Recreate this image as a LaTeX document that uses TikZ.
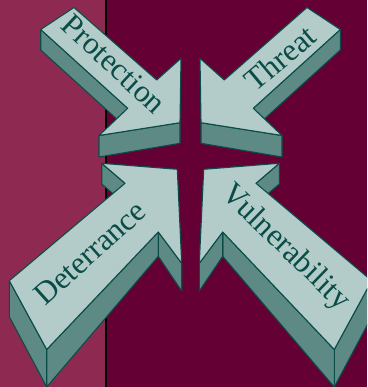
\documentclass[tikz,border=0pt]{standalone}
\usepackage{fontspec}
\setmainfont{Liberation Serif}
\definecolor{bgL}{HTML}{8E2A51}
\definecolor{bgR}{HTML}{650034}
\definecolor{topC}{HTML}{B3CCC9}
\definecolor{sideC}{HTML}{5E8A85}
\definecolor{edgeC}{HTML}{0A4D48}
\begin{document}
\begin{tikzpicture}[x=1pt,y=-1pt,
  topface/.style={fill=topC,draw=edgeC,line width=1.1pt,line join=round},
  sideface/.style={fill=sideC,draw=edgeC,line width=1.1pt,line join=round},
  lbl/.style={font=\fontsize{31.5}{31.5}\selectfont,text=edgeC,inner sep=0pt}]
\useasboundingbox (0,0) rectangle (367,387);
\clip (0,0) rectangle (367,387);
% background
\fill[bgR] (0,0) rectangle (367,387);
\fill[bgL] (0,0) rectangle (106,387);
\draw[black,line width=2pt] (106,0) -- (106,387);

% ---------- Protection (top left) ----------
\coordinate (pA) at (74,7.5);
\coordinate (pB) at (40.7,29.5);
\coordinate (pBd) at (40.7,50);
\coordinate (pC) at (127.7,108.3);
\coordinate (pCd) at (127.7,129);
\coordinate (pD) at (99,135.5);
\coordinate (pDd) at (99,157);
\coordinate (pE) at (180,122.7);
\coordinate (pEd) at (180,143.3);
\coordinate (pF) at (181,58.3);
\coordinate (pG) at (156.7,80);
\draw[sideface] (pB) -- (pC) -- (pCd) -- (pBd) -- cycle;
\draw[sideface] (pD) -- (pE) -- (pEd) -- (pDd) -- cycle;
\draw[topface] (pA) -- (pB) -- (pC) -- (pD) -- (pE) -- (pF) -- (pG) -- cycle;

% ---------- Threat (top right) ----------
\coordinate (tA) at (307,7.5);
\coordinate (tB) at (340.3,29.5);
\coordinate (tBd) at (340.3,50);
\coordinate (tC) at (253.3,108.3);
\coordinate (tCd) at (253.3,129);
\coordinate (tD) at (282,135.5);
\coordinate (tDd) at (282,157);
\coordinate (tE) at (201,122.7);
\coordinate (tEd) at (201,143.3);
\coordinate (tF) at (200,58.3);
\coordinate (tG) at (224.3,80);
\draw[sideface] (tB) -- (tC) -- (tCd) -- (tBd) -- cycle;
\draw[sideface] (tD) -- (tE) -- (tEd) -- (tDd) -- cycle;
\draw[topface] (tA) -- (tB) -- (tC) -- (tD) -- (tE) -- (tF) -- (tG) -- cycle;

% ---------- Deterrance (bottom left) ----------
\coordinate (d1) at (9.3,280.7);
\coordinate (d1d) at (9.3,316.7);
\coordinate (d2) at (46.7,349.5);
\coordinate (d2d) at (46.7,387);
\coordinate (d3) at (158.3,232);
\coordinate (d3d) at (158.3,256.3);
\coordinate (d4) at (181.7,263.3);
\coordinate (d4d) at (181.7,291);
\coordinate (d5) at (177.3,169.3);
\coordinate (d6) at (101.7,163.3);
\coordinate (d6d) at (101.7,184);
\coordinate (d7) at (125,183.3);
\coordinate (d7d) at (125,204);
\draw[sideface] (d6) -- (d7) -- (d7d) -- (d6d) -- cycle;
\draw[sideface] (d1) -- (d2) -- (d2d) -- (d1d) -- cycle;
\draw[sideface] (d2) -- (d3) -- (d3d) -- (d2d) -- cycle;
\draw[sideface] (d3) -- (d4) -- (d4d) -- (d3d) -- cycle;
\draw[topface] (d1) -- (d2) -- (d3) -- (d4) -- (d5) -- (d6) -- (d7) -- cycle;

% ---------- Vulnerability (bottom right) ----------
\coordinate (v1) at (371.7,280.7);
\coordinate (v1d) at (371.7,316.7);
\coordinate (v2) at (334.3,349.5);
\coordinate (v2d) at (334.3,387);
\coordinate (v3) at (222.7,232);
\coordinate (v3d) at (222.7,256.3);
\coordinate (v4) at (199.3,263.3);
\coordinate (v4d) at (199.3,291);
\coordinate (v5) at (203.7,169.3);
\coordinate (v6) at (279.3,163.3);
\coordinate (v6d) at (279.3,184);
\coordinate (v7) at (256,183.3);
\coordinate (v7d) at (256,204);
\draw[sideface] (v6) -- (v7) -- (v7d) -- (v6d) -- cycle;
\draw[sideface] (v1) -- (v2) -- (v2d) -- (v1d) -- cycle;
\draw[sideface] (v2) -- (v3) -- (v3d) -- (v2d) -- cycle;
\draw[sideface] (v3) -- (v4) -- (v4d) -- (v3d) -- cycle;
\draw[topface] (v1) -- (v2) -- (v3) -- (v4) -- (v5) -- (v6) -- (v7) -- cycle;

% ---------- labels ----------
\node[lbl,rotate=-43] (lp) at (114,64) {Protection};
\node[lbl,rotate=40] (lt) at (280,58) {Threat};
\node[lbl,rotate=42] (ld) at (90,253) {Deterrance};
\node[lbl,rotate=-44] (lv) at (285,248) {Vulnerability};
\end{tikzpicture}
\end{document}
